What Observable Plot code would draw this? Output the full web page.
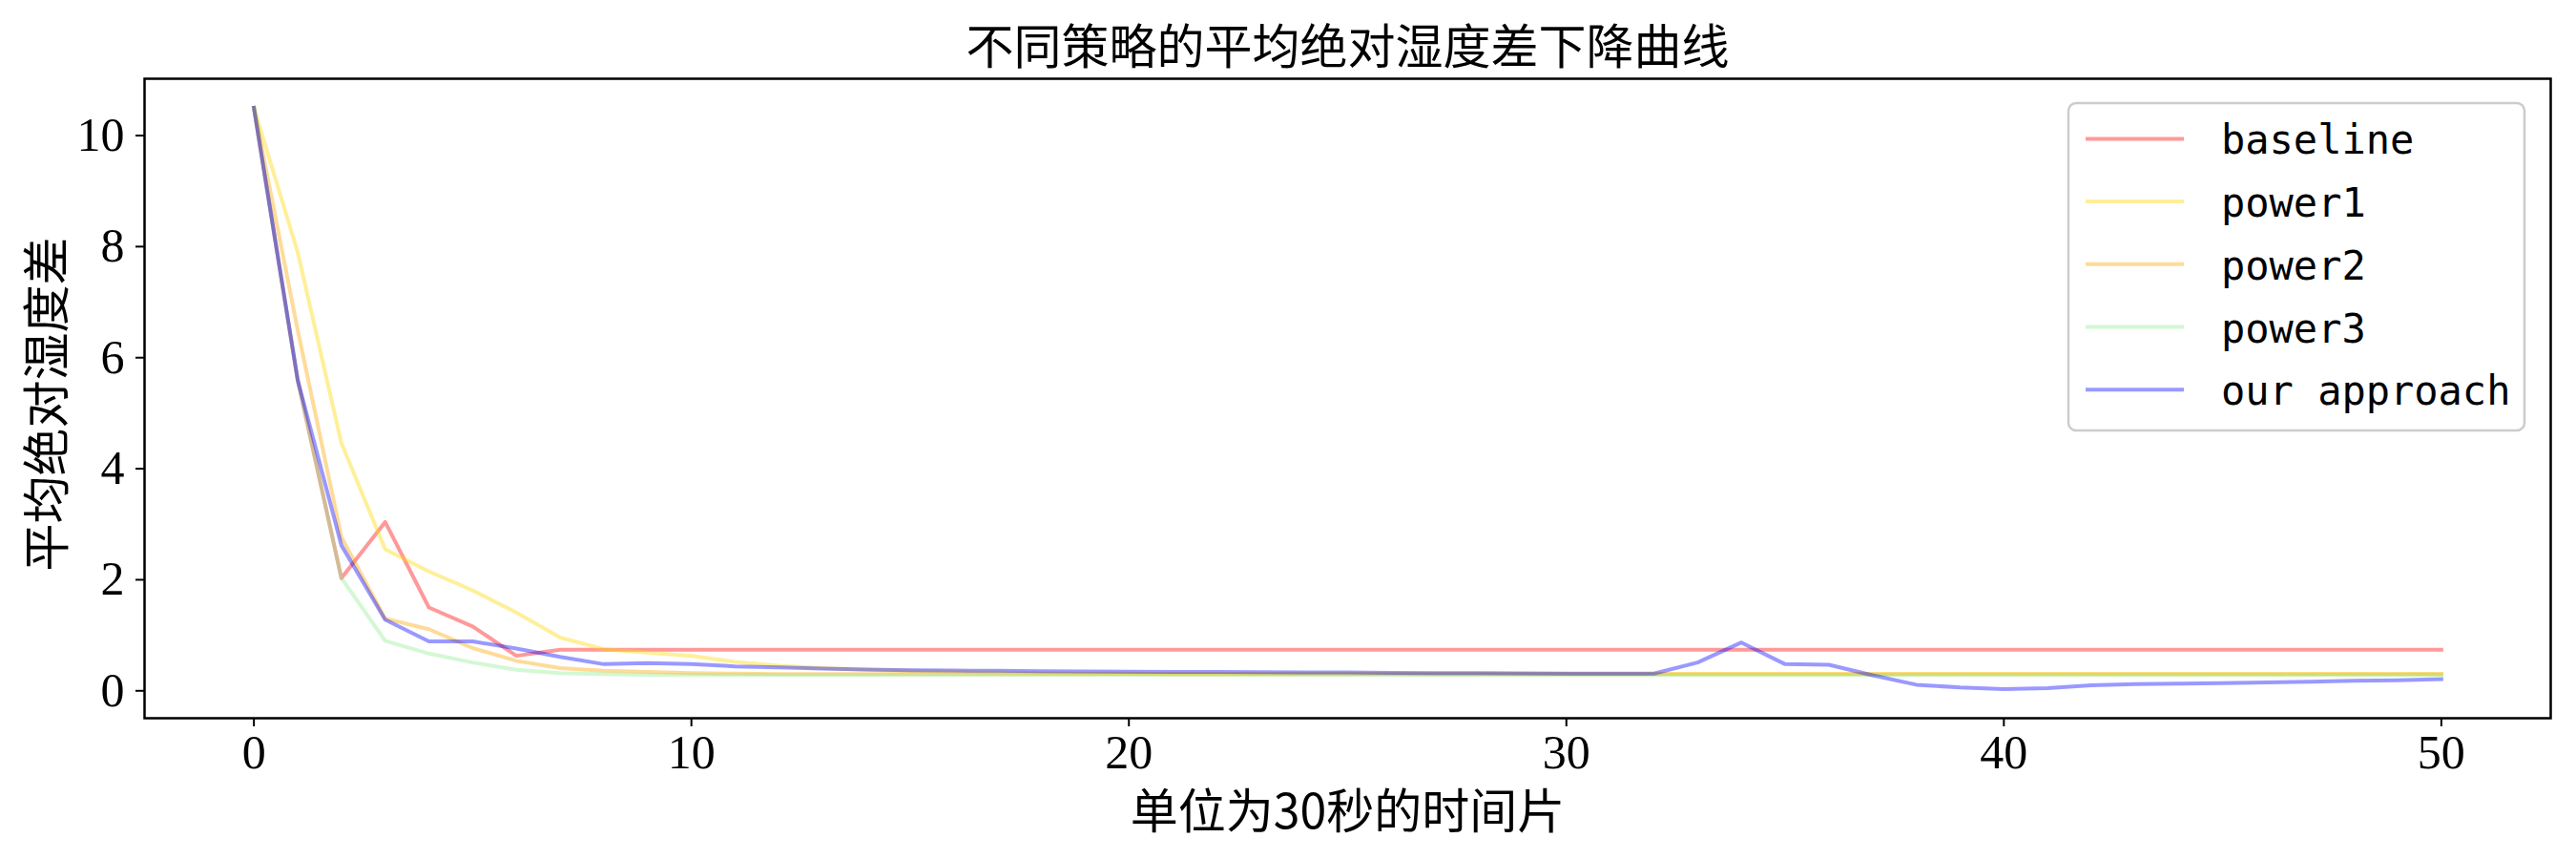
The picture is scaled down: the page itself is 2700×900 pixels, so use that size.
<!DOCTYPE html>
<html>
<head>
<meta charset="utf-8">
<script src="https://cdn.jsdelivr.net/npm/d3@7"></script>
<script src="https://cdn.jsdelivr.net/npm/@observablehq/plot@0.6"></script>
<style>
  html, body { margin: 0; padding: 0; background: #fff; }
  #chart { width: 2700px; height: 900px; }
</style>
</head>
<body>
<div id="chart"></div>
<script>
// ---- data ----
const title = "不同策略的平均绝对湿度差下降曲线";
const xLabel = "单位为30秒的时间片";
const yLabel = "平均绝对湿度差";
const xTicks = [0, 10, 20, 30, 40, 50];
const yTicks = [0, 2, 4, 6, 8, 10];
const seriesNames = ["baseline", "power1", "power2", "power3", "our approach"];
const seriesColors = ["red", "gold", "orange", "lightgreen", "blue"];
const timeSteps = d3.range(0, 51);

const baseline = [10.5, 5.6, 2.03, 3.04, 1.50, 1.16, 0.63, 0.74, 0.74, 0.74,
  0.74, 0.74, 0.74, 0.74, 0.74, 0.74, 0.74, 0.74, 0.74, 0.74,
  0.74, 0.74, 0.74, 0.74, 0.74, 0.74, 0.74, 0.74, 0.74, 0.74,
  0.74, 0.74, 0.74, 0.74, 0.74, 0.74, 0.74, 0.74, 0.74, 0.74,
  0.74, 0.74, 0.74, 0.74, 0.74, 0.74, 0.74, 0.74, 0.74, 0.74, 0.74];
const power1 = [10.5, 7.9, 4.46, 2.55, 2.15, 1.81, 1.41, 0.96, 0.75, 0.69,
  0.63, 0.52, 0.45, 0.41, 0.38, 0.36, 0.34, 0.33, 0.32, 0.31,
  0.31, 0.30, 0.30, 0.30, 0.30, 0.30, 0.30, 0.30, 0.30, 0.30,
  0.30, 0.30, 0.30, 0.30, 0.30, 0.30, 0.30, 0.30, 0.30, 0.30,
  0.30, 0.30, 0.30, 0.30, 0.30, 0.30, 0.30, 0.30, 0.30, 0.30, 0.30];
const power2 = [10.5, 6.5, 2.77, 1.30, 1.11, 0.77, 0.54, 0.41, 0.36, 0.34,
  0.32, 0.31, 0.30, 0.30, 0.30, 0.30, 0.30, 0.30, 0.30, 0.30,
  0.30, 0.30, 0.30, 0.30, 0.30, 0.30, 0.30, 0.30, 0.30, 0.30,
  0.30, 0.30, 0.30, 0.30, 0.30, 0.30, 0.30, 0.30, 0.30, 0.30,
  0.30, 0.30, 0.30, 0.30, 0.30, 0.30, 0.30, 0.30, 0.30, 0.30, 0.30];
const power3 = [10.5, 5.6, 2.03, 0.90, 0.67, 0.51, 0.38, 0.32, 0.30, 0.29,
  0.29, 0.29, 0.29, 0.29, 0.29, 0.29, 0.29, 0.29, 0.29, 0.29,
  0.29, 0.29, 0.29, 0.29, 0.29, 0.29, 0.29, 0.29, 0.29, 0.29,
  0.29, 0.29, 0.29, 0.29, 0.29, 0.29, 0.29, 0.29, 0.29, 0.29,
  0.29, 0.29, 0.29, 0.29, 0.29, 0.29, 0.29, 0.29, 0.29, 0.29, 0.29];
const ourApproach = [10.5, 5.6, 2.62, 1.28, 0.89, 0.89, 0.76, 0.61, 0.48, 0.50,
  0.48, 0.44, 0.42, 0.40, 0.385, 0.37, 0.365, 0.36, 0.355, 0.35,
  0.345, 0.34, 0.34, 0.335, 0.33, 0.33, 0.325, 0.32, 0.32, 0.315,
  0.31, 0.31, 0.31, 0.51, 0.87, 0.48, 0.47, 0.28, 0.11, 0.06,
  0.03, 0.05, 0.10, 0.12, 0.13, 0.14, 0.15, 0.165, 0.18, 0.19, 0.21];

const seriesValues = [baseline, power1, power2, power3, ourApproach];

// ---- layout ----
const W = 2700, H = 900;
const mL = 151, mR = 27, mT = 82, mB = 148;
const cjk = "'Noto Sans CJK SC', 'Noto Sans', sans-serif";
const serif = "'Liberation Serif', 'Times New Roman', serif";
const lineW = 4;

// matplotlib-style 5% margins
const allY = seriesValues.flat();
const [yMin, yMax] = d3.extent(allY);
const yPad = (yMax - yMin) * 0.05;
const [xMin, xMax] = d3.extent(timeSteps);
const xPad = (xMax - xMin) * 0.05;

const lineMarks = seriesValues.map((vals, i) =>
  Plot.line(timeSteps.map((t, j) => ({t, v: vals[j]})), {
    x: "t", y: "v",
    stroke: seriesColors[i], strokeOpacity: 0.4, strokeWidth: lineW,
    strokeLinejoin: "round", strokeLinecap: "square"
  })
);

const svg = Plot.plot({
  width: W, height: H,
  marginLeft: mL, marginRight: mR, marginTop: mT, marginBottom: mB,
  style: {background: "#fff", fontFamily: serif},
  x: {domain: [xMin - xPad, xMax + xPad]},
  y: {domain: [yMin - yPad, yMax + yPad]},
  marks: [
    ...lineMarks,
    Plot.frame({stroke: "black", strokeWidth: 2.5}),
    Plot.axisX(xTicks, {tickSize: 9, tickPadding: 8, strokeWidth: 2, fontSize: 50, fontFamily: serif, label: null, fill: "black", tickFormat: d => String(d)}),
    Plot.axisY(yTicks, {tickSize: 9, tickPadding: 12, strokeWidth: 2, fontSize: 50, fontFamily: serif, label: null, fill: "black", tickFormat: d => String(d)}),
    Plot.text([title], {frameAnchor: "top", lineAnchor: "middle", textAnchor: "middle", dy: -32, fontSize: 50, fontFamily: cjk, fill: "black"}),
    Plot.text([xLabel], {frameAnchor: "bottom", lineAnchor: "middle", textAnchor: "middle", dy: 99, fontSize: 50, fontFamily: cjk, fill: "black"}),
    Plot.text([yLabel], {frameAnchor: "left", lineAnchor: "middle", textAnchor: "middle", dx: -101, dy: 6, rotate: -90, fontSize: 50, fontFamily: cjk, fill: "black"})
  ]
});

// ---- legend (upper right, matplotlib style) ----
const lg = d3.select(svg).append("g").attr("class", "legend").attr("text-anchor", "start");
const lx = 2168, ly = 108, lw = 478, lh = 343;
lg.append("rect").attr("x", lx).attr("y", ly).attr("width", lw).attr("height", lh)
  .attr("rx", 8).attr("fill", "white").attr("fill-opacity", 0.8)
  .attr("stroke", "#cccccc").attr("stroke-width", 2.5);
seriesNames.forEach((name, i) => {
  const yy = 145.4 + i * 65.7;
  lg.append("line").attr("x1", 2186).attr("x2", 2289).attr("y1", yy).attr("y2", yy)
    .attr("stroke", seriesColors[i]).attr("stroke-opacity", 0.4).attr("stroke-width", lineW);
  lg.append("text").attr("x", 2328).attr("y", yy + 16)
    .attr("text-anchor", "start")
    .attr("font-family", "'DejaVu Sans Mono', 'Liberation Mono', monospace")
    .attr("font-size", 42).attr("fill", "black").text(name);
});

document.getElementById("chart").appendChild(svg);
</script>
</body>
</html>
